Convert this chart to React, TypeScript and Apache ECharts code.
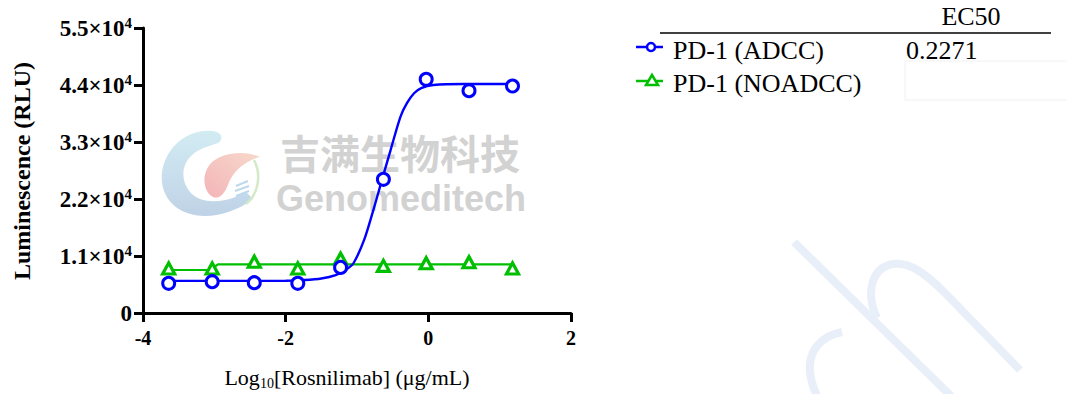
import React, { useEffect, useRef } from "react";
import * as echarts from "echarts";

// ---- data ----
const logConc = [-3.64, -3.03, -2.44, -1.83, -1.23, -0.63, -0.03, 0.57, 1.18];
const adccRLU = [5730, 6040, 5850, 5730, 8800, 25800, 45100, 42900, 43800];
const noadccRLU = [8600, 8600, 9900, 8600, 10500, 9100, 9600, 9800, 8600];

// fitted curves
const adccFitX = [-3.64, -2.5, -2.0, -1.75, -1.5, -1.3, -1.15, -1.05, -0.9, -0.77, -0.65, -0.53, -0.39, -0.3, -0.2, -0.1, 0.07, 0.5, 1.18];
const adccFitY = [6200, 6200, 6230, 6350, 6650, 7300, 8400, 9600, 14100, 19900, 25700, 31400, 37900, 40500, 42400, 43400, 44000, 44200, 44200];
const noadccFitX = [-3.64, -3.06, -2.95, 1.18];
const noadccFitY = [8300, 8300, 9400, 9400];

const seriesNames = ["PD-1 (ADCC)", "PD-1 (NOADCC)"];
const ec50Labels = ["0.2271", ""];
const ec50Header = "EC50";
const yTitle = "Luminescence (RLU)";
const watermarkCN = "吉满生物科技";
const watermarkEN = "Genomeditech";

const BLUE = "#0000ff";
const GREEN = "#00bf00";
const SERIF = '"Liberation Serif", "Times New Roman", serif';

// ---- watermark / decoration shapes ----
echarts.graphic.registerShape(
  "wmCrescent",
  echarts.graphic.extendPath(
    "M 213 131 C 190 128 166 145 162 172 C 159 200 180 216 205 216 C 222 216 240 209 253 199 L 246 192 C 232 200 215 204 200 199 C 183 192 178 170 190 157 C 198 148 210 146 218 143 C 224 139 222 132 213 131 Z",
    {}
  )
);
echarts.graphic.registerShape(
  "wmDrop",
  echarts.graphic.extendPath(
    "M 260 157 C 245 150 222 152 211 163 C 201 174 203 192 213 197 C 222 200 226 190 230 180 C 236 168 248 160 260 157 Z",
    {}
  )
);
echarts.graphic.registerShape(
  "wmLeaf",
  echarts.graphic.extendPath("M 254 160 C 262 175 258 195 246 204", {})
);
echarts.graphic.registerShape(
  "decoLine",
  echarts.graphic.extendPath("M 794 242 L 955 400", {})
);
echarts.graphic.registerShape(
  "decoArch",
  echarts.graphic.extendPath(
    "M 877 318 C 866 295 870 268 893 264 C 910 262 925 273 945 293 L 1020 370",
    {}
  )
);
echarts.graphic.registerShape(
  "decoC",
  echarts.graphic.extendPath(
    "M 842 332 C 820 336 808 352 810 372 C 811 382 814 390 818 398",
    {}
  )
);

export default function App() {
  const ref = useRef<HTMLDivElement>(null);

  useEffect(() => {
    if (!ref.current) return;
    const chart = echarts.init(ref.current, undefined, { renderer: "svg" });

    const pts = (xs: number[], ys: number[]) => xs.map((x, i) => [x, ys[i]]);

    const decoStyle = { fill: "none", stroke: "#e9eff8", lineWidth: 8 };
    const legendText = (text: string, x: number, y: number) => ({
      type: "text",
      x,
      y,
      style: { text, fontSize: 26, fontFamily: SERIF, fill: "#000", verticalAlign: "middle" },
    });

    const graphic: any[] = [
      // bottom-right decoration
      { type: "decoLine", z: 0, silent: true, style: decoStyle },
      { type: "decoArch", z: 0, silent: true, style: decoStyle },
      { type: "decoC", z: 0, silent: true, style: decoStyle },
      // watermark logo
      {
        type: "wmCrescent",
        z: 0,
        silent: true,
        style: {
          fill: new echarts.graphic.LinearGradient(0, 0, 0, 1, [
            { offset: 0, color: "#d2ecf3" },
            { offset: 1, color: "#bfd2e6" },
          ]),
        },
      },
      {
        type: "wmDrop",
        z: 0,
        silent: true,
        style: {
          fill: new echarts.graphic.LinearGradient(1, 0, 0, 1, [
            { offset: 0, color: "#f7d9cb" },
            { offset: 1, color: "#f3b4b8" },
          ]),
        },
      },
      { type: "wmLeaf", z: 0, silent: true, style: { fill: "none", stroke: "#d3e9c8", lineWidth: 2.5 } },
      ...[
        [236, 186, 248, 181],
        [235, 191, 249, 186],
        [236, 196, 249, 191],
        [238, 201, 248, 197],
      ].map((s) => ({
        type: "line",
        z: 0,
        silent: true,
        shape: { x1: s[0], y1: s[1], x2: s[2], y2: s[3] },
        style: { stroke: "#bcd9ee", lineWidth: 2 },
      })),
      {
        type: "text",
        z: 0,
        silent: true,
        x: 400,
        y: 152,
        style: {
          text: watermarkCN,
          fontSize: 40,
          fontWeight: "bold",
          fontFamily: '"Noto Sans CJK SC", sans-serif',
          fill: "#d2d2d2",
          align: "center",
          verticalAlign: "middle",
        },
      },
      {
        type: "text",
        z: 0,
        silent: true,
        x: 401,
        y: 198,
        style: {
          text: watermarkEN,
          fontSize: 36,
          fontWeight: "bold",
          fontFamily: '"Liberation Sans", Arial, sans-serif',
          fill: "#d2d2d2",
          align: "center",
          verticalAlign: "middle",
        },
      },
      // axis titles
      {
        type: "text",
        x: 22,
        y: 171,
        rotation: Math.PI / 2,
        style: {
          text: yTitle,
          fontSize: 24,
          fontWeight: "bold",
          fontFamily: SERIF,
          fill: "#000",
          align: "center",
          verticalAlign: "middle",
        },
      },
      {
        type: "text",
        x: 347,
        y: 377,
        style: {
          text: "{a|Log}{s|10}{a|[Rosnilimab] (μg/mL)}",
          align: "center",
          verticalAlign: "middle",
          rich: {
            a: { fontSize: 22, fontFamily: SERIF, fill: "#000", lineHeight: 26 },
            s: { fontSize: 14, fontFamily: SERIF, fill: "#000", verticalAlign: "bottom", lineHeight: 15 },
          },
        },
      },
      // legend table
      {
        type: "text",
        x: 971,
        y: 16,
        style: { text: ec50Header, fontSize: 26, fontFamily: SERIF, fill: "#000", align: "center", verticalAlign: "middle" },
      },
      { type: "line", shape: { x1: 660, y1: 33, x2: 1051, y2: 33 }, style: { stroke: "#000", lineWidth: 1.5 } },
      { type: "line", shape: { x1: 636, y1: 47, x2: 663, y2: 47 }, style: { stroke: BLUE, lineWidth: 2.5 } },
      { type: "circle", shape: { cx: 651, cy: 47, r: 4 }, style: { fill: "#fff", stroke: BLUE, lineWidth: 2.5 } },
      legendText(seriesNames[0], 673, 50),
      legendText(ec50Labels[0], 906, 50),
      { type: "line", shape: { x1: 636, y1: 81, x2: 663, y2: 81 }, style: { stroke: GREEN, lineWidth: 2.5 } },
      {
        type: "polygon",
        shape: { points: [[652, 75], [646, 85], [658, 85]] },
        style: { fill: "#fff", stroke: GREEN, lineWidth: 2.5 },
      },
      legendText(seriesNames[1], 673, 83),
      legendText(ec50Labels[1], 906, 83),
      {
        type: "rect",
        z: 0,
        shape: { x: 905, y: 61, width: 170, height: 39 },
        style: { fill: "none", stroke: "#f1f1f1", lineWidth: 1 },
      },
    ];

    const axisLineStyle = { color: "#000", width: 3 };

    const option: any = {
      animation: false,
      backgroundColor: "#fff",
      grid: { left: 143, top: 28, width: 428, height: 285, containLabel: false },
      xAxis: {
        type: "value",
        min: -4,
        max: 2,
        interval: 2,
        axisLine: { show: true, onZero: false, lineStyle: axisLineStyle },
        axisTick: { show: true, length: 9, lineStyle: axisLineStyle },
        axisLabel: { color: "#000", fontFamily: SERIF, fontWeight: "bold", fontSize: 20, margin: 15 },
        splitLine: { show: false },
      },
      yAxis: {
        type: "value",
        min: 0,
        max: 55000,
        interval: 11000,
        axisLine: { show: true, onZero: false, lineStyle: axisLineStyle },
        axisTick: { show: true, length: 9, lineStyle: axisLineStyle },
        axisLabel: {
          margin: 11,
          formatter: (v: number) =>
            v === 0 ? "{a|0}" : "{a|" + (v / 10000).toFixed(1) + "×10}{s|4}",
          rich: {
            a: { fontSize: 23, fontWeight: "bold", fontFamily: SERIF, color: "#000", lineHeight: 25 },
            s: { fontSize: 15, fontWeight: "bold", fontFamily: SERIF, color: "#000", verticalAlign: "top", lineHeight: 16 },
          },
        },
        splitLine: { show: false },
      },
      series: [
        {
          name: seriesNames[1] + " fit",
          type: "line",
          data: pts(noadccFitX, noadccFitY),
          showSymbol: false,
          symbol: "none",
          lineStyle: { color: GREEN, width: 2.2 },
          z: 2,
        },
        {
          name: seriesNames[1],
          type: "scatter",
          data: pts(logConc, noadccRLU),
          symbol: "triangle",
          symbolSize: [12, 11],
          itemStyle: { color: "#fff", borderColor: GREEN, borderWidth: 3.2, opacity: 1 },
          z: 3,
        },
        {
          name: seriesNames[0] + " fit",
          type: "line",
          data: pts(adccFitX, adccFitY),
          smooth: 0.3,
          showSymbol: false,
          symbol: "none",
          lineStyle: { color: BLUE, width: 2.4 },
          z: 4,
        },
        {
          name: seriesNames[0],
          type: "scatter",
          data: pts(logConc, adccRLU),
          symbol: "circle",
          symbolSize: 12,
          itemStyle: { color: "#fff", borderColor: BLUE, borderWidth: 3, opacity: 1 },
          z: 5,
        },
      ],
      graphic,
    };

    chart.setOption(option);
    return () => chart.dispose();
  }, []);

  return (
    <div
      ref={ref}
      style={{ position: "absolute", left: 0, top: 0, width: 1067, height: 394, background: "#fff" }}
    />
  );
}
